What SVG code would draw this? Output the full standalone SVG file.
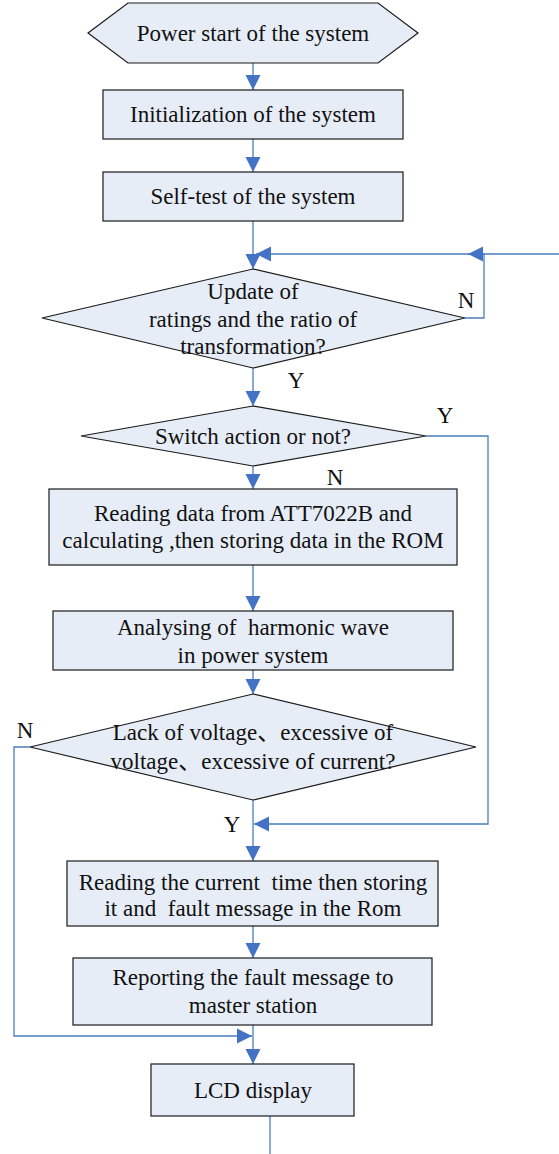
<svg xmlns="http://www.w3.org/2000/svg" width="559" height="1154" viewBox="0 0 559 1154">
<style>
.n{fill:#e7edf7;stroke:#1a1a1a;stroke-width:1.2}
.t{font-family:"Liberation Serif","Times New Roman","Noto Sans CJK SC",serif;font-size:23px;fill:#111;text-anchor:middle;white-space:pre}
.l{font-family:"Liberation Serif","Times New Roman",serif;font-size:23px;fill:#111;text-anchor:middle}
.c{fill:none;stroke:#4a7ebf;stroke-width:1.3}
</style>
<defs>
<marker id="ah" markerUnits="userSpaceOnUse" markerWidth="16" markerHeight="16" viewBox="0 0 16 16" refX="15" refY="8" orient="auto">
<path d="M0,0.5 L15,8 L0,15.5 Z" fill="#4472c4"/>
</marker>
</defs>
<rect width="559" height="1154" fill="#fff"/>
<g id="connectors">
<path class="c" d="M253,63 V90" marker-end="url(#ah)"/>
<path class="c" d="M253,139 V172" marker-end="url(#ah)"/>
<path class="c" d="M253,221 V269" marker-end="url(#ah)"/>
<path class="c" d="M465,318 H484 V254 H256" marker-end="url(#ah)"/>
<path class="c" d="M559,254 H468" marker-end="url(#ah)"/>
<path class="c" d="M253,368 V406" marker-end="url(#ah)"/>
<path class="c" d="M426,436 H488 V824 H254" marker-end="url(#ah)"/>
<path class="c" d="M253,466 V489" marker-end="url(#ah)"/>
<path class="c" d="M253,565 V611" marker-end="url(#ah)"/>
<path class="c" d="M253,670 V694" marker-end="url(#ah)"/>
<path class="c" d="M253,800 V861" marker-end="url(#ah)"/>
<path class="c" d="M30,747 H14 V1036 H252" marker-end="url(#ah)"/>
<path class="c" d="M253,926 V958" marker-end="url(#ah)"/>
<path class="c" d="M253,1025 V1064" marker-end="url(#ah)"/>
<path class="c" d="M270,1116 V1154"/>
</g>
<g id="start">
<polygon class="n" points="88,33 128,3 378,3 418,33 378,63 128,63"/>
<text class="t" x="253" y="41">Power start of the system</text>
</g>
<g id="init">
<rect class="n" x="103" y="90" width="300" height="49"/>
<text class="t" x="253" y="122">Initialization of the system</text>
</g>
<g id="selftest">
<rect class="n" x="103" y="172" width="300" height="49"/>
<text class="t" x="253" y="204">Self-test of the system</text>
</g>
<g id="update">
<polygon class="n" points="253,269 465,318 253,368 42,318"/>
<text class="t" x="253" y="299">Update of</text>
<text class="t" x="253" y="327">ratings and the ratio of</text>
<text class="t" x="253" y="354">transformation?</text>
</g>
<g id="switch">
<polygon class="n" points="253,406 426,436 253,466 81,436"/>
<text class="t" x="253" y="444">Switch action or not?</text>
</g>
<g id="read">
<rect class="n" x="49" y="489" width="408" height="76"/>
<text class="t" x="253" y="521">Reading data from ATT7022B and</text>
<text class="t" x="253" y="548">calculating ,then storing data in the ROM</text>
</g>
<g id="analyse">
<rect class="n" x="53" y="611" width="400" height="59"/>
<text class="t" x="253" y="635" xml:space="preserve">Analysing of  harmonic wave</text>
<text class="t" x="253" y="663">in power system</text>
</g>
<g id="fault">
<polygon class="n" points="253,694 476,747 253,800 30,747"/>
<text class="t" x="253" y="740">Lack of voltage、excessive of</text>
<text class="t" x="253" y="769">voltage、excessive of current?</text>
</g>
<g id="store">
<rect class="n" x="67" y="861" width="371" height="65"/>
<text class="t" x="253" y="890" xml:space="preserve">Reading the current  time then storing</text>
<text class="t" x="253" y="916" xml:space="preserve">it and  fault message in the Rom</text>
</g>
<g id="report">
<rect class="n" x="73" y="958" width="359" height="67"/>
<text class="t" x="253" y="985">Reporting the fault message to</text>
<text class="t" x="253" y="1013">master station</text>
</g>
<g id="lcd">
<rect class="n" x="151" y="1064" width="203" height="52"/>
<text class="t" x="253" y="1098">LCD display</text>
</g>
<g id="labels">
<text class="l" x="466" y="308">N</text>
<text class="l" x="296" y="388">Y</text>
<text class="l" x="445" y="423">Y</text>
<text class="l" x="335" y="485">N</text>
<text class="l" x="25" y="738">N</text>
<text class="l" x="232" y="832">Y</text>
</g>
</svg>
